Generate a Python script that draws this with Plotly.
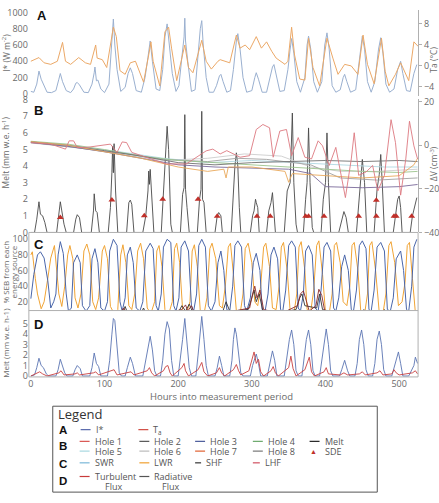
import plotly.graph_objects as go

W, H = 439, 503

# ---------------- DATA ----------------
# Panel A: I* (W m-2) and Ta (deg C)
istar_h = [0,4,8,11,14,18,22,28,34,38,40,43,48,54,58,61,63,66,72,78,83,86,87,89,91,95,100,106,109,112,114,117,122,128,132,135,138,143,150,155,159,162,165,170,175,179,182,185,188,192,197,201,205,208,209,210,213,218,223,227,230,232,234,238,242,248,252,256,258,261,266,271,275,279,281,284,288,293,300,304,306,309,314,320,325,328,330,333,338,344,349,352,354,357,361,366,372,375,377,380,384,389,395,399,402,405,409,414,420,424,426,429,434,441,446,450,453,457,462,467,472,475,478,482,487,493,498,502,505,510,515,520,524]
istar_v = [30,20,120,280,180,90,20,15,40,180,250,150,40,15,60,130,140,110,20,15,120,260,330,160,170,60,15,120,500,920,600,300,30,80,250,320,250,40,20,200,450,650,400,60,40,300,700,860,600,250,30,100,450,700,930,650,400,30,50,500,800,900,600,200,20,20,100,220,240,150,20,40,300,650,740,550,200,20,40,200,260,180,20,20,200,330,360,220,30,40,300,550,680,500,150,20,200,600,710,550,150,20,150,600,750,550,100,20,50,200,240,150,20,50,450,710,550,150,20,150,550,690,500,120,20,60,300,400,250,40,30,250,360]

ta_h = [0,4.5,11,18,27,36,43,47,54,65,74,81,88,90,97,103,110,112,116,121,128,135,142,153,160,163,166,175,182,187,191,198,209,214,220,232,238,245,254,257,270,279,284,291,297,306,313,320,327,333,345,349,354,358,365,372,377,383,392,402,410,417,426,435,444,451,457,466,476,481,486,495,502,513,520,526]
ta_v = [0.8,1.1,1.5,0.5,0.2,0.8,4.4,0.8,0.2,1.5,0.5,0.2,3.9,1.4,1.1,-0.4,5.2,7.3,5.5,-1.0,-1.7,0.5,0.8,-3.2,2.0,4.5,0.8,-3.9,6.4,7.3,3.3,-2.9,3.9,-0.4,-1.4,4.8,0.8,-0.7,0.8,1.1,0.5,5.8,3.3,3.9,3.0,5.5,3.3,4.5,2.7,1.4,0.2,0.8,7.3,2.0,-2.6,-2.8,5.2,-0.4,-3.9,5.2,1.4,-1.7,0.2,-0.1,-1.7,5.8,0.2,-3.5,5.2,-1.1,-3.9,-1.7,0.5,-2.9,4.5,3.6]

# Panel B: melt (mm w.e. h-1), SDE markers, hole volume change (cm3)
melt_h = [0,5,8,11,13,16,19,22,35,38,40,42,45,48,58,61,63,66,69,82,85,86,88,90,93,105,108,110,111,112,113,115,118,130,133,135,137,140,152,156,159,160,161,162,164,167,177,180,183,185,187,190,192,203,206,208,209,210,212,215,226,229,231,232,233,235,238,250,253,255,258,260,272,275,277,279,281,283,285,298,301,303,305,306,308,310,320,323,326,328,330,332,344,348,352,355,357,360,362,370,373,375,377,379,382,384,394,397,400,402,404,407,418,422,425,428,431,442,446,450,453,456,466,470,473,475,477,480,492,496,498,500,502,504,515,518,521,524]
melt_v = [0,0,0.8,1.85,1.1,1.0,0.6,0,0,1.0,1.85,1.3,0.5,0,0,0.8,1.07,0.9,0,0,1.3,2.33,1.3,1.2,0,0,1.5,3.6,5.2,3.6,5.35,2.5,0,0,1.8,1.95,1.7,0,0,1.0,2.5,3.7,2.9,3.8,2.0,0,0,2.5,5.5,6.4,5.0,0.5,0,0,2.3,2.7,7.1,2.6,1.5,0,0,2.0,2.6,7.3,2.0,1.8,0,0,1.0,1.2,1.0,0,0,2.5,4.0,4.8,4.0,1.5,0,0,1.0,1.3,2.0,1.8,1.5,0,0,1.3,1.8,2.4,1.2,0,0,2.5,3.0,7.2,3.0,0.5,0,0,2.0,3.0,6.3,3.0,0.3,0,0,2.0,3.0,6.0,3.0,0,0,0.8,1.26,0.9,0,0,2.5,4.4,3.0,0,0,2.6,3.5,4.7,3.0,0,0,1.5,2.0,2.2,1.5,0,0,1.0,1.5,2.1]

sde_h = [40,110,154,179,227,253,307,325,373,377,398,445,469,469,493,496,517]
sde_v = [0.9,1.95,1.0,2.0,2.0,0.97,0.97,0.97,0.97,0.97,0.97,0.97,1.94,0.97,0.97,0.97,0.97]

hole1_h = [0,27,47,52,58,63,76,108,117,124,130,137,157,184,211,238,247,257,266,275,284,297,306,315,324,329,338,347,354,363,372,381,390,396,405,414,421,427,435,439,445,455,464,471,480,489,495,502,509,514,520,525]
hole1_v = [1.2,0.5,-1.8,2.0,2.0,-1.0,-1.0,0.5,-3.3,1.5,1.2,-3.3,-5.6,-8.6,-8.6,-2.6,-1.8,-4.0,-2.5,-4.0,-5.5,-4.8,7.2,9.5,8.0,-5.5,6.5,7.2,-4.8,3.5,-5.5,-6.3,2.0,-0.3,-9.3,-1.0,-13.8,-24.0,-6.3,5.7,-13.8,-12.3,-9.3,-21.0,-13.8,11.7,1.2,-22.9,-6.3,11.0,-0.3,-6.3]
hole2_h = [0,50,100,150,200,250,300,350,400,450,500,525]
hole2_v = [1.5,0.0,-2.5,-5.0,-8.0,-9.0,-8.0,-7.5,-7.0,-7.5,-7.0,-7.5]
hole3_h = [0,50,100,150,200,250,300,350,380,400,450,500,525]
hole3_v = [1.2,-0.5,-3.0,-6.0,-9.0,-10.0,-10.5,-11.0,-13.0,-19.0,-19.5,-19.0,-18.0]
hole4_h = [0,50,100,150,200,250,300,350,400,450,500,525]
hole4_v = [1.8,0.5,-2.0,-5.0,-7.0,-8.0,-9.0,-10.0,-11.0,-12.0,-12.5,-12.0]
hole5_h = [0,60,120,180,240,300,360,420,480,525]
hole5_v = [1.4,-0.5,-3.0,-6.0,-8.0,-7.0,-8.0,-9.0,-10.0,-10.0]
hole6_h = [0,60,120,180,240,290,340,380,420,470,525]
hole6_v = [1.0,-1.0,-4.0,-7.0,-6.0,-4.0,-5.0,-10.0,-12.0,-12.0,-11.0]
hole7_h = [0,50,100,150,200,240,262,265,268,300,345,350,355,400,450,500,520,525]
hole7_v = [1.6,0.0,-3.0,-6.0,-10.0,-12.0,-11.0,-15.0,-10.0,-10.0,-12.0,-17.0,-13.0,-14.0,-15.0,-14.0,-9.0,-6.0]
hole8_h = [0,60,120,180,240,280,320,380,420,470,525]
hole8_v = [1.3,-1.0,-3.5,-6.5,-7.5,-6.0,-6.5,-9.0,-15.0,-16.0,-15.0]

# Panel C: % SEB from each energy source
swr_h = [0,4,9,13,18,23,27,31,34,37,40,44,48,51,55,58,63,67,70,75,80,83,87,91,95,100,104,107,112,117,121,124,128,131,135,139,143,148,152,156,162,166,170,173,177,180,185,190,194,197,201,204,209,214,218,221,225,228,232,237,241,245,250,254,258,262,266,270,274,277,281,286,290,293,298,302,306,311,314,318,322,326,330,335,339,342,346,350,354,359,363,366,370,373,377,382,386,390,394,398,402,407,411,414,418,422,426,431,435,438,442,446,450,455,459,462,466,470,475,480,484,488,492,496,502,506,510,513,517,520,524]
swr_v = [24,55,80,84,76,47,12,20,30,80,97,82,30,8,12,70,80,70,15,8,15,75,88,70,12,8,20,85,100,92,20,8,25,80,90,70,12,8,20,85,95,88,15,8,30,90,100,96,15,8,25,90,98,85,15,8,30,92,100,90,15,8,20,70,85,60,10,8,40,92,98,90,15,8,25,70,82,60,10,8,30,80,90,75,10,8,35,92,98,90,12,8,30,85,92,80,12,8,35,90,96,85,12,8,25,65,80,60,10,8,35,92,98,88,10,8,35,90,96,85,10,8,25,75,85,60,10,8,40,90,100]
lwr_h = [0,2,6,9,14,18,23,27,32,35,38,42,46,50,53,57,60,64,68,72,76,80,84,88,92,97,100,104,108,113,118,122,125,129,133,137,141,145,149,153,158,163,168,171,174,178,182,187,192,195,198,202,206,211,216,219,222,226,230,235,239,243,246,251,256,260,264,268,271,275,279,284,288,291,295,300,304,308,312,316,319,324,328,333,337,340,343,348,352,357,361,364,367,372,375,380,384,388,391,396,400,405,409,412,415,420,424,429,433,436,439,444,448,453,457,460,463,468,473,478,482,486,489,494,499,504,508,511,514,518,522,525]
lwr_v = [80,84,50,30,11,20,50,76,92,60,30,14,40,80,92,75,25,12,30,85,94,80,20,10,25,85,92,75,14,5,10,80,93,70,15,10,30,85,95,75,12,5,20,85,92,65,10,4,20,88,95,70,10,4,20,85,93,65,8,4,25,88,95,75,15,12,40,90,95,55,8,4,30,88,95,70,20,15,40,90,95,65,12,10,40,90,96,60,8,4,30,90,97,60,10,8,35,92,98,55,6,5,30,92,96,70,20,15,40,92,96,60,6,4,30,92,97,60,6,5,30,92,97,70,15,20,45,92,96,50,6,4]
shf_h = [0,50,100,125,128,131,150,153,156,200,205,210,215,220,240,260,265,270,295,300,303,306,310,315,330,360,365,368,372,388,392,396,420,448,452,455,476,480,484,525]
shf_v = [4,5,5,8,14,6,6,12,5,6,15,8,17,6,5,6,20,8,10,25,35,20,30,8,5,10,25,30,15,12,30,10,5,6,10,5,5,10,4,5]
lhf_h = [0,60,120,126,130,180,205,210,213,218,222,260,297,301,304,307,311,316,340,362,366,370,374,378,387,391,395,399,440,500,525]
lhf_v = [3,4,5,12,5,5,10,16,8,15,5,5,12,30,40,25,35,10,5,15,30,34,20,8,15,36,28,8,4,5,4]

# Panel D: melt from radiative and turbulent flux (mm w.e. h-1)
rad_h = [0,5,8,11,14,17,21,24,34,37,40,43,46,49,57,60,63,67,70,80,83,86,89,92,95,104,107,110,112,114,117,120,123,128,131,135,138,142,152,156,159,162,165,168,171,176,179,182,185,188,191,194,200,203,206,209,212,215,218,224,227,230,232,235,238,241,250,253,256,259,262,270,273,275,277,279,282,285,288,298,301,304,306,309,312,321,324,328,331,334,344,347,351,354,357,360,363,368,371,374,377,380,383,386,392,395,398,401,404,407,410,419,422,426,430,433,440,443,446,449,452,455,458,464,467,470,473,476,479,482,490,494,497,499,502,505,513,517,520,522,525]
rad_v = [0,0.1,0.8,1.7,1.0,0.8,0.2,0,0,0.6,1.6,1.0,0.3,0,0,0.6,1.0,0.7,0,0,0.8,2.2,1.2,0.9,0,0,1.5,4.0,5.5,5.3,2.5,0.3,0,0,0.8,1.8,1.2,0,0,1.5,3.0,3.8,2.5,0.5,0,0,1.5,4.0,5.2,4.5,1.5,0,0,1.5,3.5,5.5,3.0,0.8,0,0,2.0,4.5,5.7,3.5,1.0,0,0,0.8,1.9,1.0,0,0,1.5,3.5,4.6,4.0,2.0,0.3,0,0,1.0,1.6,2.1,1.2,0,0,1.0,2.4,1.5,0,0,1.5,3.5,4.4,3.0,0.5,0,0,1.5,3.5,4.4,3.0,0.5,0,0,1.5,3.5,4.5,3.0,0.5,0,0,0.6,1.5,0.5,0,0,1.2,3.5,4.4,3.0,0.6,0,0,1.2,3.5,4.3,3.0,0.6,0,0,1.0,1.8,2.3,1.2,0,0,0.5,1.0,1.8,1.2]
turb_h = [0,8,12,16,22,38,41,45,60,63,66,85,88,92,110,113,117,133,136,140,158,161,164,168,180,183,186,189,192,205,208,210,214,227,230,232,235,240,252,256,259,263,275,279,282,285,296,300,303,306,309,312,316,326,329,332,336,350,353,356,360,372,375,378,381,385,398,401,404,420,425,430,446,450,454,470,474,478,490,493,496,500,518,522,525]
turb_v = [0,0.3,0.4,0.2,0,0.3,0.5,0.1,0.2,0.3,0.1,0.3,0.4,0.1,0.5,0.6,0.1,0.3,0.4,0.1,0.5,0.8,0.3,0,0.5,0.9,1.0,0.3,0,0.8,1.2,0.5,0,0.6,1.0,1.3,0.4,0,0.3,0.8,0.3,0,0.6,1.1,0.5,0.1,0.5,1.5,2.3,1.2,1.6,0.4,0,0.5,0.9,0.3,0,0.8,1.9,0.7,0,0.6,1.3,1.8,0.4,0,0.4,0.8,0.2,0.1,0.3,0.1,0.2,0.4,0.1,0.3,0.5,0.1,0.2,0.6,0.3,0.1,0.3,0.5,0.2]

x_ticks = [0, 100, 200, 300, 400, 500]
istar_ticks = [0, 200, 400, 600, 800, 1000]
ta_ticks = [-4, 0, 4, 8]
melt_ticks = [0, 1, 2, 3, 4, 5, 6, 7, 8]
dv_ticks = [-40, -20, 0, 20]
seb_ticks = [20, 40, 60, 80, 100]
dmelt_ticks = [0, 1, 2, 3, 4, 5]

# ---------------- STYLE / LAYOUT ----------------
FONT = "Open Sans"
TICKC = "#6a6a6a"
AXC = "#b0b0b0"
def py(p):
    return 1 - p / H
def px(p):
    return p / W

C_ISTAR = "#9ab0d0"; C_TA = "#eba867"
C_MELT = "#484848"; C_SDE = "#c0302a"
HOLE_C = ["#dc7880", "#707070", "#7a6a9a", "#9cc48c", "#b0d8e2", "#cdcdcd", "#e9a85a", "#a0a0a0"]
C_SWR = "#4a66aa"; C_LWR = "#f0a436"; C_SHF = "#333333"; C_LHF = "#8b2a2a"
C_RAD = "#5a74b2"; C_TURB = "#c84040"

fig = go.Figure()
def line(x, y, c, yax, w=1.0):
    fig.add_trace(go.Scatter(x=x, y=y, mode="lines", line=dict(color=c, width=w),
                             xaxis="x", yaxis=yax, showlegend=False, hoverinfo="skip"))

line(istar_h, istar_v, C_ISTAR, "y", 1.0)
line(ta_h, ta_v, C_TA, "y2", 1.0)

holes = [(hole1_h, hole1_v), (hole2_h, hole2_v), (hole3_h, hole3_v), (hole4_h, hole4_v),
         (hole5_h, hole5_v), (hole6_h, hole6_v), (hole7_h, hole7_v), (hole8_h, hole8_v)]
for i in [5, 4, 7, 3, 1, 2, 6, 0]:
    line(holes[i][0], holes[i][1], HOLE_C[i], "y4", 0.9)
line(melt_h, melt_v, C_MELT, "y3", 0.9)
fig.add_trace(go.Scatter(x=sde_h, y=sde_v, mode="markers", xaxis="x", yaxis="y3",
                         marker=dict(symbol="triangle-up", size=6, color=C_SDE),
                         showlegend=False, hoverinfo="skip"))

line(lwr_h, lwr_v, C_LWR, "y5", 1.0)
line(swr_h, swr_v, C_SWR, "y5", 1.0)
line(shf_h, shf_v, C_SHF, "y5", 0.9)
line(lhf_h, lhf_v, C_LHF, "y5", 0.9)

line(rad_h, rad_v, C_RAD, "y6", 0.9)
line(turb_h, turb_v, C_TURB, "y6", 0.9)

tickf = dict(family=FONT, size=9, color=TICKC)
common_y = dict(showgrid=False, zeroline=False, tickfont=tickf, ticks="", anchor="x")

fig.update_layout(
    width=W, height=H, margin=dict(l=0, r=0, t=0, b=0),
    paper_bgcolor="white", plot_bgcolor="white", showlegend=False,
    xaxis=dict(domain=[px(28), px(419)], range=[-2.7, 525.7], anchor="y6",
               tickvals=x_ticks, showgrid=False, zeroline=False, tickfont=tickf,
               ticks="", showline=False),
    yaxis=dict(domain=[py(92), py(4)], range=[-24, 1032], tickvals=istar_ticks, **common_y),
    yaxis2=dict(domain=[py(92), py(4)], range=[-5.8, 10.6], tickvals=ta_ticks, overlaying="y",
                side="right", showgrid=False, zeroline=False, tickfont=tickf, anchor="x",
                ticks="outside", ticklen=3, tickcolor=AXC, showline=True, linecolor=AXC),
    yaxis3=dict(domain=[py(232), py(95)], range=[0, 8.06], tickvals=melt_ticks, **common_y),
    yaxis4=dict(domain=[py(232), py(95)], range=[-40, 21.3], tickvals=dv_ticks, overlaying="y3",
                side="right", showgrid=False, zeroline=False, tickfont=tickf, anchor="x",
                ticks="outside", ticklen=3, tickcolor=AXC, showline=True, linecolor=AXC),
    yaxis5=dict(domain=[py(312), py(232)], range=[8.75, 108.75], tickvals=seb_ticks, **common_y),
    yaxis6=dict(domain=[py(380), py(312)], range=[-0.09, 6.26], tickvals=dmelt_ticks, **common_y),
)

shapes = []
def seg(x0, y0, x1, y1, c=AXC, w=1):
    shapes.append(dict(type="line", xref="paper", yref="paper", x0=px(x0), y0=py(y0),
                       x1=px(x1), y1=py(y1), line=dict(color=c, width=w)))
# frames
seg(28, 232, 419, 232)
seg(28, 232, 28, 380); seg(419, 232, 419, 380)
seg(28, 312, 419, 312); seg(28, 380, 419, 380)

ann = []
def txt(x, y, s, size=9, color=TICKC, xanchor="center", bold=False, angle=0, family=FONT):
    ann.append(dict(x=px(x), y=py(y), xref="paper", yref="paper", text=("<b>%s</b>" % s) if bold else s,
                    showarrow=False, xanchor=xanchor, yanchor="middle", textangle=angle,
                    font=dict(family=family, size=size, color=color)))

# panel letters
for (lx, ly, L) in [(41, 10, "A"), (38, 107, "B"), (38, 244, "C"), (38, 326, "D")]:
    txt(lx, ly, L, size=13, color="#111", bold=True, family="Liberation Sans")
# axis titles
txt(5, 48, "I* (W m<sup>-2</sup>)", size=8.5, angle=-90)
txt(5, 150, "Melt (mm w.e. h<sup>-1</sup>)", size=8.5, angle=-90)
txt(5, 272, "% SEB from each", size=8, angle=-90)
txt(13, 272, "energy source", size=8, angle=-90)
txt(5, 345, "Melt (mm w.e. h-1)", size=8, angle=-90)
txt(435, 55, "Ta (°C)", size=8.5, angle=-90)
txt(435, 162, "ΔV (cm<sup>-3</sup>)", size=8.5, angle=-90)
txt(222, 400, "Hours into measurement period", size=9.5)

# legend box
shapes.append(dict(type="rect", xref="paper", yref="paper", x0=px(52), y0=py(498), x1=px(378), y1=py(410),
                   line=dict(color="#555", width=1), fillcolor="rgba(0,0,0,0)"))
txt(55, 418, "Legend", size=13, color="#333", xanchor="left")
LT = "#555"
txt(62, 434, "A", size=11.5, color="#111", bold=True, family="Liberation Sans")
txt(62, 451, "B", size=11.5, color="#111", bold=True, family="Liberation Sans")
txt(62, 469, "C", size=11.5, color="#111", bold=True, family="Liberation Sans")
txt(62, 487, "D", size=11.5, color="#111", bold=True, family="Liberation Sans")

def item(x, y, c, label, lw=10):
    seg(x, y, x + lw, y, c=c, w=1.2)
    txt(x + lw + 3, y, label, size=9, color=LT, xanchor="left")

item(80, 434, "#5566aa", "I*")
item(138, 434, "#d04a40", "T<sub>a</sub>")
cols = [79, 139, 195, 253, 310]
row1 = [("#d9534f", "Hole 1"), ("#555555", "Hole 2"), ("#4a5a9a", "Hole 3"), ("#6aa86a", "Hole 4"), ("#222222", "Melt")]
row2 = [("#a8d8e0", "Hole 5"), ("#bbbbbb", "Hole 6"), ("#e06030", "Hole 7"), ("#777777", "Hole 8")]
for cx, (c, l) in zip(cols, row1):
    item(cx, 446, c, l)
for cx, (c, l) in zip(cols, row2):
    item(cx, 456, c, l)
txt(314, 456, "▲", size=7, color=C_SDE)
txt(323, 456, "SDE", size=9, color=LT, xanchor="left")
item(79, 468, "#7ab8d8", "SWR")
item(139, 468, "#f0a030", "LWR")
item(195, 468, "#333333", "SHF", lw=6)
item(253, 468, "#d05060", "LHF", lw=7)
seg(79, 482, 89, 482, c="#c83a3a", w=1.2)
txt(92, 482, "Turbulent", size=9, color=LT, xanchor="left")
txt(113, 492, "Flux", size=9, color=LT)
seg(139, 482, 149, 482, c="#555555", w=1.2)
txt(152, 482, "Radiative", size=9, color=LT, xanchor="left")
txt(170, 492, "Flux", size=9, color=LT)

fig.update_layout(shapes=shapes, annotations=ann)
fig.write_html("out.html")
